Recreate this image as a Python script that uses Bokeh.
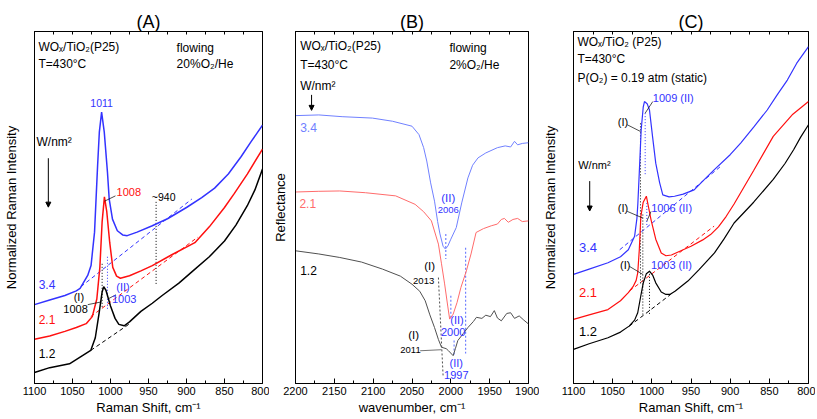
from bokeh.plotting import figure
from bokeh.models import Range1d, FixedTicker, LinearAxis, Label, Arrow, NormalHead
from bokeh.layouts import row
from bokeh.embed import file_html
from bokeh.resources import INLINE

FONT = "Liberation Sans"

# ---------------- Panel A data (Raman, flowing 20% O2/He) ----------------
A_TICKS = [1100, 1050, 1000, 950, 900, 850, 800]
A_MINOR = [1075, 1025, 975, 925, 875, 825]
A_BLUE_X = [1100, 1080, 1060, 1045, 1040, 1030, 1025.6, 1021, 1017, 1014.7, 1011.7, 1008.2, 1004, 1001.7,
            997.4, 991, 984, 978, 965, 945, 925, 900, 880, 863, 845, 828, 815, 800]
A_BLUE_Y = [22.4, 23.7, 25.0, 26.3, 27.0, 30.7, 33.5, 43.0, 61.8, 71.4, 77.1, 71.4, 60.0, 52.4,
            46.7, 43.4, 42.2, 42.0, 43.0, 44.8, 46.8, 50.0, 52.8, 55.5, 59.5, 64.5, 68.7, 73.4]
A_RED_X = [1100, 1080, 1060, 1045, 1032, 1024, 1018, 1014, 1011, 1008, 1005, 1001, 997, 992, 987,
           975, 960, 945, 920, 889, 870, 850, 837, 820, 800]
A_RED_Y = [12.6, 13.5, 14.8, 15.9, 17.0, 19.0, 24.0, 33.0, 46.0, 53.0, 49.0, 40.0, 33.0, 30.5, 29.9,
           30.6, 32.0, 33.5, 36.5, 40.0, 44.5, 50.0, 54.0, 59.5, 66.6]
A_BLK_X = [1100, 1080, 1054, 1040, 1026, 1020, 1015, 1011, 1009, 1006, 1000, 994, 989, 982, 975,
           960, 945, 932, 910, 893, 870, 850, 835, 820, 810, 800]
A_BLK_Y = [3.1, 4.5, 5.6, 7.5, 9.4, 13.0, 20.0, 26.0, 27.5, 26.5, 22.0, 18.5, 16.8, 16.4, 17.5,
           20.5, 22.8, 25.0, 28.5, 31.7, 36.0, 40.5, 45.0, 50.5, 55.0, 60.9]
A_BASE_X0 = [1039, 1026, 1026]
A_BASE_Y0 = [27.5, 19.0, 9.4]
A_BASE_X1 = [893, 885, 976]
A_BASE_Y1 = [52.4, 41.6, 16.8]
A_DOT_X = [940, 1011, 1004]
A_DOT_Y0 = [51.6, 34.0, 36.0]
A_DOT_Y1 = [28.3, 21.2, 20.8]

# ---------------- Panel B data (reflectance) ----------------
B_TICKS = [2200, 2150, 2100, 2050, 2000, 1950, 1900]
B_MINOR = [2175, 2125, 2075, 2025, 1975, 1925]
B_BLUE_X = [2200, 2170, 2140, 2101, 2075, 2050, 2041, 2035, 2031, 2026, 2021, 2017, 2014, 2010, 2007,
            2004, 2000, 1993, 1986, 1978, 1972, 1965, 1955, 1940, 1930, 1923, 1918, 1914, 1908, 1900]
B_BLUE_Y = [76.1, 76.3, 75.8, 75.4, 74.5, 73.1, 70.7, 67.0, 63.2, 57.0, 51.8, 46.0, 42.5, 39.0, 38.2,
            39.0, 41.0, 44.3, 51.3, 58.4, 62.0, 64.1, 65.5, 67.0, 67.5, 67.2, 68.8, 67.8, 68.2, 68.4]
B_RED_X = [2200, 2170, 2143, 2110, 2071, 2046, 2035, 2025, 2016, 2012, 2008, 2004, 2001.5, 1997, 1992,
           1987, 1980, 1974, 1967.5, 1958, 1948, 1940, 1935, 1931, 1926, 1920, 1914, 1908, 1900]
B_RED_Y = [54.4, 54.6, 54.7, 54.2, 53.3, 50.9, 48.8, 46.2, 39.6, 34.0, 28.3, 22.0, 18.3, 19.7, 23.0,
           27.3, 32.0, 36.8, 42.9, 44.0, 44.8, 45.3, 46.6, 46.9, 45.8, 46.6, 46.9, 46.0, 46.2]
B_BLK_X = [2200, 2170, 2143, 2115, 2088, 2065, 2050, 2040, 2033, 2027, 2021, 2016, 2012, 2006, 2003,
           1997, 1994, 1991, 1984, 1978, 1971, 1967, 1960, 1955, 1949, 1944, 1940, 1935, 1928, 1923,
           1918, 1912, 1906, 1900]
B_BLK_Y = [37.7, 36.8, 35.8, 34.5, 32.5, 30.5, 28.2, 26.2, 23.5, 19.5, 15.9, 12.5, 10.3, 9.9, 9.3,
           7.9, 10.0, 12.2, 14.2, 15.9, 17.6, 18.8, 18.5, 19.4, 19.0, 20.7, 18.6, 17.8, 19.9, 20.1,
           18.5, 19.2, 18.0, 16.9]
B_BDOT_X0 = [2016]
B_BDOT_Y0 = [30.1]
B_BDOT_X1 = [2010]
B_BDOT_Y1 = [2.3]
B_DOT_X = [2006.5, 2000, 1995.8, 1981]
B_DOT_Y0 = [42.5, 24.9, 12.2, 38.6]
B_DOT_Y1 = [35.4, 18.4, 7.9, 8.5]

# ---------------- Panel C data (Raman, static) ----------------
C_BLUE_X = [1100, 1080, 1056, 1040, 1030, 1022, 1019, 1017.8, 1016, 1013.6, 1011, 1009.4, 1006, 1003,
            999, 995, 990, 986, 978, 971, 960, 946, 935, 920.5, 900, 886.6, 870, 852.7, 840, 827,
            815, 800]
C_BLUE_Y = [31.0, 32.5, 34.3, 36.0, 38.0, 41.8, 47.0, 51.3, 60.0, 72.0, 78.5, 80.1, 79.5, 77.7,
            70.0, 62.6, 57.0, 53.6, 53.0, 53.2, 53.8, 55.0, 57.5, 60.7, 65.0, 68.3, 72.8, 77.7, 82.0,
            86.2, 91.0, 95.7]
C_RED_X = [1100, 1080, 1056, 1040, 1030, 1024, 1020, 1018, 1016, 1014, 1011, 1007, 1001, 995, 988,
           982, 975, 965, 950, 935, 925, 915, 905, 895, 870, 845, 820, 800]
C_RED_Y = [18.2, 19.5, 21.0, 23.5, 25.8, 27.5, 29.3, 31.4, 38.0, 47.5, 51.5, 53.2, 46.5, 41.0, 37.1,
           36.3, 36.5, 37.5, 39.0, 40.8, 42.3, 44.5, 47.5, 51.0, 60.5, 70.2, 76.5, 80.1]
C_BLK_X = [1100, 1080, 1056, 1040, 1029, 1022, 1018, 1014, 1011, 1007, 1003, 999, 995, 988, 982,
           977, 970, 954, 940, 920, 908, 895, 870, 845, 830, 819, 810, 800]
C_BLK_Y = [9.7, 11.3, 13.0, 14.6, 16.3, 18.0, 20.1, 25.0, 28.5, 31.2, 31.9, 30.8, 28.6, 26.0, 25.3,
           25.3, 26.3, 29.1, 32.3, 37.1, 41.0, 45.6, 51.5, 58.0, 62.5, 66.4, 70.0, 73.5]
C_BASE_X0 = [1041, 1028.5, 1028.8]
C_BASE_Y0 = [38.0, 26.3, 16.3]
C_BASE_X1 = [912, 920.5, 976]
C_BASE_Y1 = [61.7, 44.7, 25.3]
C_DOT_X = [1014.5, 1011.5, 1003, 1008.5, 1006.4]
C_DOT_Y0 = [73.9, 48.0, 32.0, 76.8, 51.3]
C_DOT_Y1 = [28.3, 19.0, 19.5, 58.9, 45.0]

BLUE = "#3333ff"
RED = "#ff1010"
BLK = "#000000"
B_BLUE = "#7080ff"
B_RED = "#ff6b6b"
B_BLK = "#505050"

H = 417


def make_panel(width, bl, br, xr, ticks, minor, xlabel, ylabel, ylab_standoff, title):
    p = figure(width=width, height=H, x_range=Range1d(*xr), y_range=Range1d(0, 100),
               output_backend="svg", toolbar_location=None, title=title,
               x_axis_location=None, y_axis_location=None,
               min_border_left=bl, min_border_right=br, min_border_top=31, min_border_bottom=33)
    p.title.align = "center"
    p.title.text_font = FONT
    p.title.text_font_size = "18px"
    p.title.text_font_style = "normal"
    p.title.text_color = "black"
    p.title.standoff = 0
    p.grid.visible = False
    p.outline_line_color = "black"
    p.outline_line_alpha = 1
    p.outline_line_width = 1
    p.background_fill_color = "white"
    xb = LinearAxis(ticker=FixedTicker(ticks=ticks, minor_ticks=minor), axis_label=xlabel)
    xb.major_tick_in = 5
    xb.major_tick_out = 0
    xb.minor_tick_in = 3
    xb.minor_tick_out = 0
    xb.major_label_standoff = 3
    xb.axis_label_standoff = 2
    xb.major_label_text_font = FONT
    xb.major_label_text_font_size = "11px"
    xb.major_label_text_color = "black"
    xb.axis_label_text_font = FONT
    xb.axis_label_text_font_size = "13px"
    xb.axis_label_text_font_style = "normal"
    xb.axis_label_text_color = "black"
    xb.axis_line_color = "black"
    xb.major_tick_line_color = "black"
    xb.minor_tick_line_color = "black"
    p.add_layout(xb, "below")
    xt = LinearAxis(ticker=FixedTicker(ticks=ticks, minor_ticks=minor))
    xt.major_tick_in = 3
    xt.major_tick_out = 0
    xt.minor_tick_in = 3
    xt.minor_tick_out = 0
    xt.major_label_text_color = None
    xt.major_label_text_font_size = "0px"
    xt.major_label_standoff = 0
    xt.axis_line_color = "black"
    xt.major_tick_line_color = "black"
    xt.minor_tick_line_color = "black"
    p.add_layout(xt, "above")
    yl = LinearAxis(ticker=FixedTicker(ticks=[]), axis_label=ylabel)
    yl.major_tick_in = 0
    yl.major_tick_out = 0
    yl.minor_tick_in = 0
    yl.minor_tick_out = 0
    yl.major_label_text_color = None
    yl.axis_line_color = "black"
    yl.axis_label_standoff = ylab_standoff
    yl.axis_label_text_font = FONT
    yl.axis_label_text_font_size = "13px"
    yl.axis_label_text_font_style = "normal"
    yl.axis_label_text_color = "black"
    p.add_layout(yl, "left")
    return p


def lab(p, x, y, text, color="black", size="12px", align="left"):
    p.add_layout(Label(x=x, y=y, text=text, text_color=color, text_font=FONT,
                       text_font_size=size, text_align=align, text_baseline="middle"))


def arrow(p, x, y0, y1):
    p.add_layout(Arrow(end=NormalHead(size=5, fill_color="black", line_color="black"),
                       x_start=x, y_start=y0, x_end=x, y_end=y1, line_color="black", line_width=1))


# ---------------- Panel A ----------------
pa = make_panel(269, 31, 7, (1100, 800), A_TICKS, A_MINOR, "Raman Shift, cm⁻¹",
                "Normalized Raman Intensity", 16, "(A)")
pa.segment(A_BASE_X0, A_BASE_Y0, A_BASE_X1, A_BASE_Y1, line_color=[BLUE, RED, BLK],
           line_dash="4 3", line_width=1)
pa.segment(A_DOT_X, A_DOT_Y0, A_DOT_X, A_DOT_Y1, line_color=[BLK, BLK, BLUE],
           line_dash="1 2", line_width=1)
pa.line(A_BLK_X, A_BLK_Y, line_color=BLK, line_width=1.5)
pa.line(A_RED_X, A_RED_Y, line_color=RED, line_width=1.5)
pa.line(A_BLUE_X, A_BLUE_Y, line_color=BLUE, line_width=1.5)
pa.segment([993.5, 1029.9, 993], [53.3, 22.4, 25.2], [1007.8, 1011.7, 1002.6], [51.8, 23.2, 24.1],
           line_color=["black", "black", "black"], line_width=0.7)
lab(pa, 1094.8, 95.5, "WOₓ/TiO₂(P25)")
lab(pa, 1094.8, 90.7, "T=430°C")
lab(pa, 913, 95.3, "flowing")
lab(pa, 913, 90.7, "20%O₂/He")
lab(pa, 1097.4, 68.6, "W/nm²")
arrow(pa, 1081.8, 64, 50.1)
lab(pa, 1011.7, 79.6, "1011", BLUE, "10.5px", "center")
lab(pa, 992, 54.4, "1008", RED, "11px")
lab(pa, 930, 53.0, "~940", "black", "10.5px", "center")
lab(pa, 1041.6, 24.6, "(I)", "black", "11px", "center")
lab(pa, 1046, 21.3, "1008", "black", "11px", "center")
lab(pa, 983.5, 27.4, "(II)", BLUE, "11px", "center")
lab(pa, 982, 24.0, "1003", BLUE, "11px", "center")
lab(pa, 1094.5, 28.0, "3.4", BLUE, "12px")
lab(pa, 1094.5, 18.2, "2.1", RED, "12px")
lab(pa, 1094.5, 8.5, "1.2", "black", "12px")

# ---------------- Panel B ----------------
pb = make_panel(270, 23, 11, (2200, 1900), B_TICKS, B_MINOR, "wavenumber, cm⁻¹",
                "Reflectance", 8, "(B)")
pb.segment(B_BDOT_X0, B_BDOT_Y0, B_BDOT_X1, B_BDOT_Y1, line_color=B_BLK, line_dash="2 2", line_width=1)
pb.segment(B_DOT_X, B_DOT_Y0, B_DOT_X, B_DOT_Y1, line_color=B_BLUE, line_dash="2 2", line_width=1.2)
pb.line(B_BLK_X, B_BLK_Y, line_color=B_BLK, line_width=1)
pb.line(B_RED_X, B_RED_Y, line_color=B_RED, line_width=1)
pb.line(B_BLUE_X, B_BLUE_Y, line_color=B_BLUE, line_width=1)
pb.segment([2039.5], [9.3], [2012], [9.6], line_color=B_BLK, line_width=0.8)
lab(pb, 2194, 95.8, "WOₓ/TiO₂(P25)")
lab(pb, 2194, 90.6, "T=430°C")
lab(pb, 2194, 84.6, "W/nm²")
arrow(pb, 2179.3, 82, 77.6)
lab(pb, 2001.8, 95.3, "flowing")
lab(pb, 2001.8, 90.6, "2%O₂/He")
lab(pb, 2194, 72.6, "3.4", B_BLUE, "12px")
lab(pb, 2195, 51.1, "2.1", B_RED, "12px")
lab(pb, 2194, 32.0, "1.2", "black", "12px")
lab(pb, 2003.4, 52.8, "(II)", BLUE, "11.5px", "center")
lab(pb, 2003.4, 49.3, "2006", BLUE, "9.5px", "center")
lab(pb, 2027.2, 33.3, "(I)", "black", "11.5px", "center")
lab(pb, 2035, 29.2, "2013", "black", "9.5px", "center")
lab(pb, 1992, 17.9, "(II)", BLUE, "11px", "center")
lab(pb, 1997, 14.6, "2000", BLUE, "11px", "center")
lab(pb, 2048, 13.8, "(I)", "black", "11.5px", "center")
lab(pb, 2052, 9.6, "2011", "black", "9.5px", "center")
lab(pb, 1993, 5.8, "(II)", BLUE, "11px", "center")
lab(pb, 1993, 2.5, "1997", BLUE, "11px", "center")

# ---------------- Panel C ----------------
pc = make_panel(276, 33, 7, (1100, 800), A_TICKS, A_MINOR, "Raman Shift, cm⁻¹",
                "Normalized Raman Intensity", 16, "(C)")
pc.segment(C_BASE_X0, C_BASE_Y0, C_BASE_X1, C_BASE_Y1, line_color=[BLUE, RED, BLK],
           line_dash="4 3", line_width=1)
pc.segment(C_DOT_X, C_DOT_Y0, C_DOT_X, C_DOT_Y1, line_color=[BLK, BLK, BLK, BLUE, BLUE],
           line_dash="1 2", line_width=1)
pc.line(C_BLK_X, C_BLK_Y, line_color=BLK, line_width=1.2)
pc.line(C_RED_X, C_RED_Y, line_color=RED, line_width=1.2)
pc.line(C_BLUE_X, C_BLUE_Y, line_color=BLUE, line_width=1.2)
pc.segment([998.8, 1031.4, 1031.4, 1001, 1028.8],
           [80.1, 73.5, 48.9, 48.9, 33.3],
           [1008.5, 1014.5, 1011.5, 1006.4, 1011.5],
           [76.8, 71.6, 47.0, 46.1, 31.0],
           line_color="black", line_width=0.7)
lab(pc, 1095, 97.1, "WOₓ/TiO₂ (P25)")
lab(pc, 1095, 92.1, "T=430°C")
lab(pc, 1095, 86.7, "P(O₂) = 0.19 atm (static)")
lab(pc, 1094, 62.1, "W/nm²", size="11px")
arrow(pc, 1079.3, 57.5, 49)
lab(pc, 998.8, 81.0, "1009 (II)", BLUE, "11px")
lab(pc, 1036.8, 74.4, "(I)", "black", "11px", "center")
lab(pc, 1036.8, 49.9, "(I)", "black", "11px", "center")
lab(pc, 1000.9, 49.9, "1006 (II)", BLUE, "11px")
lab(pc, 1034, 33.8, "(I)", "black", "11px", "center")
lab(pc, 1001, 33.8, "1003 (II)", BLUE, "11px")
lab(pc, 1093, 38.5, "3.4", BLUE, "13px")
lab(pc, 1093, 25.8, "2.1", RED, "13px")
lab(pc, 1093, 14.9, "1.2", "black", "13px")

layout = row(pa, pb, pc)
open("out.html", "w").write(file_html(layout, INLINE))
